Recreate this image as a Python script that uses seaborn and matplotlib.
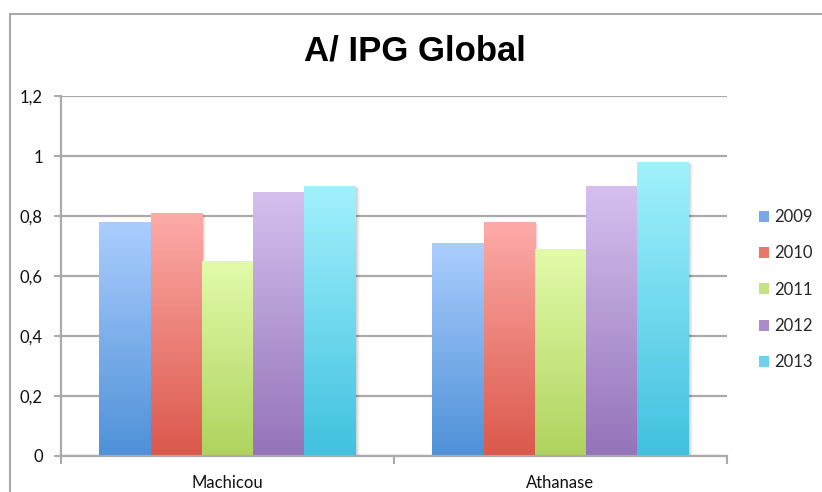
import numpy as np
import pandas as pd
import matplotlib
matplotlib.use("Agg")
import matplotlib.pyplot as plt
import seaborn as sns
from matplotlib.colors import to_rgba
from matplotlib.patches import Rectangle, Patch

# Data
categories = ["Machicou", "Athanase"]
years = ["2009", "2010", "2011", "2012", "2013"]
v2009 = [0.78, 0.71]
v2010 = [0.81, 0.78]
v2011 = [0.65, 0.69]
v2012 = [0.88, 0.90]
v2013 = [0.90, 0.98]
ytick_values = [0, 0.2, 0.4, 0.6, 0.8, 1.0, 1.2]
ytick_labels = ["0", "0,2", "0,4", "0,6", "0,8", "1", "1,2"]
title = "A/ IPG Global"

# Gradient colours per year (light top -> saturated bottom)
top_colors = ["#abcdfe", "#fdaba8", "#e2fbaa", "#d5c0ef", "#a2f1fd"]
bottom_colors = ["#4e91d7", "#db584b", "#afd35e", "#9473b9", "#40c1df"]
legend_colors = ["#78a9e6", "#e8776c", "#c5e287", "#a98cc9", "#6dd3ea"]

series = [v2009, v2010, v2011, v2012, v2013]
df = pd.DataFrame({
    "Site": [c for s in series for c in categories],
    "Année": [y for y, s in zip(years, series) for _ in categories],
    "IPG": [v for s in series for v in s],
})

sns.set_style("white")
plt.rcParams["font.family"] = ["Lato", "DejaVu Sans"]

W, H = 822, 492
fig = plt.figure(figsize=(W / 100, H / 100), dpi=100)
ax_l, ax_r, ax_t, ax_b = 61, 727, 96, 456
ax = fig.add_axes([ax_l / W, (H - ax_b) / H, (ax_r - ax_l) / W, (ax_b - ax_t) / H])

sns.barplot(data=df, x="Site", y="IPG", hue="Année", palette=bottom_colors,
            width=0.77, saturation=1, ax=ax, legend=False, errorbar=None)

ax.set_xlim(-0.5, 1.5)
ax.set_ylim(0, 1.2)

# Replace flat fills with vertical gradients and a soft drop shadow
px_x = 2.0 / (ax_r - ax_l)
px_y = 1.2 / (ax_b - ax_t)
for i, cont in enumerate(ax.containers):
    c_top = np.array(to_rgba(top_colors[i]))
    c_bot = np.array(to_rgba(bottom_colors[i]))
    for bar in cont:
        x0, w = bar.get_x(), bar.get_width()
        h = bar.get_height()
        t = np.linspace(0, 1, 256)[:, None]
        grad = (c_bot[None, :] * (1 - t) + c_top[None, :] * t)[:, None, :]
        for k, a in enumerate([0.06, 0.05, 0.04, 0.03]):
            ax.add_patch(Rectangle((x0 + (k + 1) * px_x, 0), w, h - (k + 1) * px_y * 0.5,
                                   facecolor="black", edgecolor="none", alpha=a, zorder=1.5))
        ax.imshow(grad, extent=(x0, x0 + w, 0, h), origin="lower", aspect="auto",
                  zorder=2, interpolation="bilinear")
        bar.set_facecolor("none")
        bar.set_edgecolor("none")

ax.set_xlim(-0.5, 1.5)
ax.set_ylim(0, 1.2)

grid_c = "#aaaaaa"
ax.set_yticks(ytick_values)
ax.set_yticklabels(ytick_labels, fontsize=12, color="#111111")
ax.yaxis.grid(True, color=grid_c, linewidth=1.6, zorder=0)
ax.set_axisbelow(True)
ax.tick_params(axis="y", length=5, width=1.5, color=grid_c, pad=8, direction="out", left=True)
ax.set_xticks([0, 1])
ax.set_xticklabels(categories, fontsize=12, color="#111111")
ax.set_xticks([-0.5, 0.5, 1.5], minor=True)
ax.tick_params(axis="x", which="major", length=0, pad=14)
ax.tick_params(axis="x", which="minor", length=6, width=1.5, color=grid_c, direction="out", bottom=True)
ax.set_xlabel("")
ax.set_ylabel("")
for s in ["top", "right"]:
    ax.spines[s].set_visible(False)
for s in ["left", "bottom"]:
    ax.spines[s].set_color(grid_c)
    ax.spines[s].set_linewidth(1.6)

# Title
fig.text(415 / W, 1 - 51 / H, title, ha="center", va="center", fontsize=25,
         fontweight="bold", family=["Liberation Sans", "DejaVu Sans"], color="black")

# Legend
handles = [Patch(facecolor=c, edgecolor="none") for c in legend_colors]
ax.legend(handles, years, loc="upper left", bbox_to_anchor=(759 / W, 1 - 209 / H),
          bbox_transform=fig.transFigure, frameon=False, fontsize=12,
          handlelength=0.62, handleheight=0.62, handletextpad=0.3, labelspacing=1.22,
          borderaxespad=0, borderpad=0)

# Outer chart frame
fig.patches.append(Rectangle((9.5 / W, -0.1), 1.2, 1.1 - 13.5 / H, transform=fig.transFigure,
                             facecolor="none", edgecolor="#a8a8a8", linewidth=1.5))

fig.savefig("out.png", dpi=100)
